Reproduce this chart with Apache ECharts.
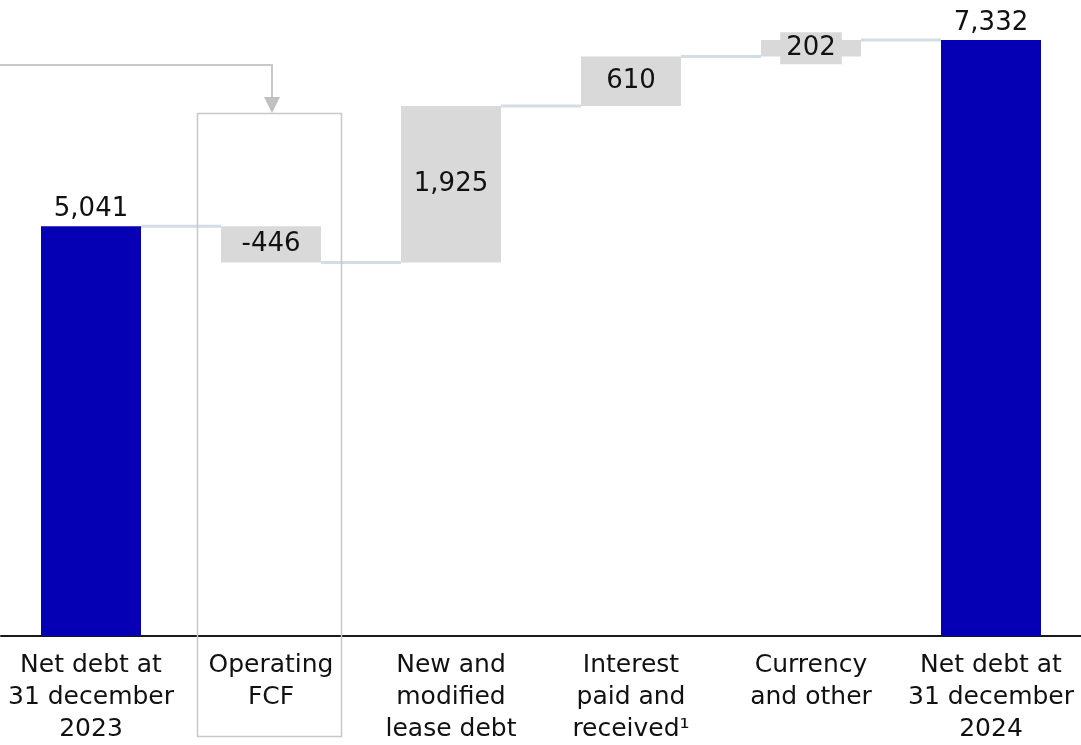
<!DOCTYPE html>
<html>
<head>
<meta charset="utf-8">
<script src="https://cdn.jsdelivr.net/npm/echarts@6/dist/echarts.min.js"></script>
<style>
  html, body { margin: 0; padding: 0; background: #fff; }
  #chart { width: 1081px; height: 745px; }
</style>
</head>
<body>
<div id="chart"></div>
<script>
// ---- Data ----
const categories = [
  'Net debt at\n31 december\n2023',
  'Operating\nFCF',
  'New and\nmodified\nlease debt',
  'Interest\npaid and\nreceived¹',
  'Currency\nand other',
  'Net debt at\n31 december\n2024'
];
const startValue = 5041;
const deltas = [-446, 1925, 610, 202];
const endValue = 7332;

// ---- Derived waterfall pieces ----
const baseVals = [0];
const barVals = [startValue];
const labelVals = [startValue];
const levels = [startValue];
let cum = startValue;
deltas.forEach(function (d) {
  const next = cum + d;
  baseVals.push(Math.min(cum, next));
  barVals.push(Math.abs(d));
  labelVals.push(d);
  cum = next;
  levels.push(cum);
});
baseVals.push(0);
barVals.push(endValue);
labelVals.push(endValue);

const BLUE = '#0600b4';
const GREY = '#d9d9d9';
const FONT = 'DejaVu Sans';
const BAR_W = 100;

function fmt(v) {
  const s = Math.abs(v).toLocaleString('en-US');
  return (v < 0 ? '-' : '') + s;
}

const visibleData = barVals.map(function (v, i) {
  const isTotal = (i === 0 || i === barVals.length - 1);
  return {
    value: v,
    itemStyle: { color: isTotal ? BLUE : GREY },
    label: isTotal ? {
      show: true, position: 'top', distance: 4,
      fontFamily: FONT, fontSize: 26, color: '#111'
    } : {
      show: true, position: 'inside',
      fontFamily: FONT, fontSize: 26, color: '#111',
      backgroundColor: GREY, padding: [2, 6, 2, 6], lineHeight: 28
    }
  };
});

const connectorData = levels.map(function (lv, i) { return [i, lv]; });

const chart = echarts.init(document.getElementById('chart'), null, { renderer: 'canvas' });
chart.setOption({
  animation: false,
  backgroundColor: '#ffffff',
  grid: { left: 1, right: 0, top: 40, bottom: 106, containLabel: false },
  xAxis: {
    type: 'category',
    data: categories,
    axisLine: { show: true, lineStyle: { color: '#1a1a1a', width: 2 } },
    axisTick: { show: false },
    axisLabel: {
      interval: 0, margin: 13,
      fontFamily: FONT, fontSize: 25, lineHeight: 32, color: '#111', align: 'center'
    },
    splitLine: { show: false }
  },
  yAxis: {
    type: 'value', min: 0, max: 7332, show: false,
    splitLine: { show: false }
  },
  series: [
    {
      type: 'bar', stack: 'wf', barWidth: BAR_W,
      itemStyle: { color: 'transparent' },
      emphasis: { disabled: true },
      data: baseVals
    },
    {
      type: 'bar', stack: 'wf', barWidth: BAR_W,
      emphasis: { disabled: true },
      label: {
        formatter: function (p) { return fmt(labelVals[p.dataIndex]); }
      },
      data: visibleData,
      z: 3
    },
    {
      type: 'custom',
      z: 2,
      data: connectorData,
      renderItem: function (params, api) {
        const i = api.value(0);
        const lv = api.value(1);
        if (i >= categories.length - 1) return null;
        const p1 = api.coord([i, lv]);
        const p2 = api.coord([i + 1, lv]);
        return {
          type: 'line',
          shape: { x1: p1[0] + BAR_W / 2, y1: p1[1], x2: p2[0] - BAR_W / 2, y2: p2[1] },
          style: { stroke: '#d3dde5', lineWidth: 3 }
        };
      }
    }
  ],
  graphic: [
    {
      type: 'rect', z: 10,
      shape: { x: 197.5, y: 113.5, width: 144, height: 623 },
      style: { fill: 'none', stroke: '#c8c8c8', lineWidth: 1.5 }
    },
    {
      type: 'polyline', z: 10,
      shape: { points: [[0, 65], [272, 65], [272, 99]] },
      style: { fill: 'none', stroke: '#c8c8c8', lineWidth: 2 }
    },
    {
      type: 'polygon', z: 10,
      shape: { points: [[264, 97], [280, 97], [272, 113]] },
      style: { fill: '#c0c0c0' }
    }
  ]
});
</script>
</body>
</html>
